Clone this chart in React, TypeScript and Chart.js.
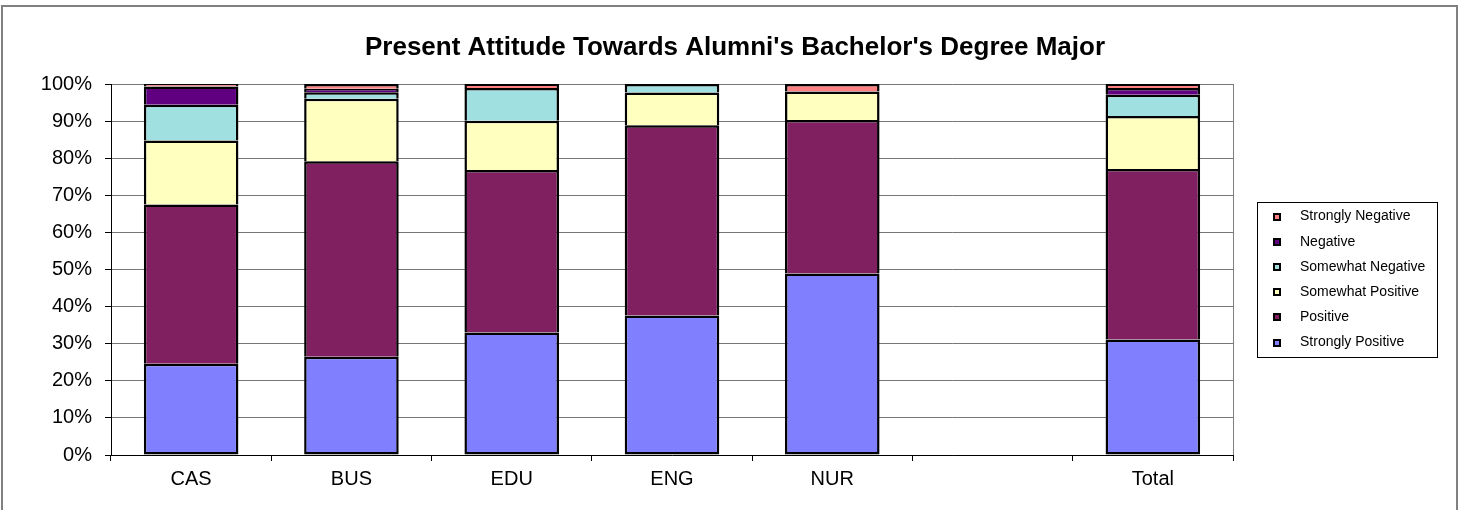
import React, { useEffect, useRef } from "react";
import { Chart, registerables } from "chart.js";

Chart.register(...registerables);

const categories = ["CAS", "BUS", "EDU", "ENG", "NUR", "", "Total"];
const stronglyPositive = [24.6, 26.5, 33.0, 37.6, 48.9, null, 31.1];
const positive = [42.9, 52.7, 43.8, 51.3, 41.4, null, 46.0];
const somewhatPositive = [17.3, 16.8, 13.3, 8.8, 7.7, null, 14.3];
const somewhatNegative = [9.6, 1.8, 8.8, 2.3, 0, null, 5.7];
const negative = [4.9, 0.9, 0, 0, 0, null, 1.8];
const stronglyNegative = [0.7, 1.3, 1.1, 0, 2.0, null, 1.1];
const yTicks = [0, 10, 20, 30, 40, 50, 60, 70, 80, 90, 100];
const titleText = "Present Attitude Towards Alumni's Bachelor's Degree Major";

const FONT = "'Liberation Sans', Arial, sans-serif";

const decorPlugin = {
  id: "decor",
  beforeDraw(chart: any) {
    const ctx = chart.ctx;
    ctx.save();
    ctx.fillStyle = "#ffffff";
    ctx.fillRect(0, 0, chart.width, chart.height);
    ctx.strokeStyle = "#808080";
    ctx.lineWidth = 2;
    ctx.strokeRect(2, 6, 1455, 520);
    ctx.restore();
  },
  afterDatasetsDraw(chart: any) {
    const ctx = chart.ctx;
    const a = chart.chartArea;
    ctx.save();
    // plot right border
    ctx.strokeStyle = "#808080";
    ctx.lineWidth = 1;
    ctx.beginPath();
    ctx.moveTo(Math.round(a.right) + 0.5, a.top);
    ctx.lineTo(Math.round(a.right) + 0.5, a.bottom);
    ctx.stroke();
    // title
    ctx.fillStyle = "#000";
    ctx.font = `bold 26px ${FONT}`;
    ctx.textAlign = "center";
    ctx.textBaseline = "alphabetic";
    ctx.fillText(titleText, 735, 55);
    // legend
    const lx = 1257, ly = 202, lw = 180, lh = 155;
    ctx.strokeStyle = "#000";
    ctx.lineWidth = 1;
    ctx.strokeRect(lx + 0.5, ly + 0.5, lw, lh);
    const ds = chart.data.datasets.slice().reverse();
    ctx.font = `14px ${FONT}`;
    ctx.textAlign = "left";
    ctx.textBaseline = "middle";
    ds.forEach((d: any, i: number) => {
      const cy = 216.5 + i * 25.2;
      ctx.fillStyle = "#000";
      ctx.fillRect(1273, Math.round(cy - 4), 8, 8);
      ctx.fillStyle = d.backgroundColor;
      ctx.fillRect(1275, Math.round(cy - 4) + 2, 4, 4);
      ctx.fillStyle = "#000";
      ctx.fillText(d.label, 1300, cy);
    });
    ctx.restore();
  },
};

export default function App() {
  const ref = useRef<HTMLCanvasElement | null>(null);
  useEffect(() => {
    document.body.style.margin = "0";
    const mk = (label: string, data: any[], color: string, skip: any) => ({
      label,
      data,
      backgroundColor: color,
      borderColor: "#000",
      borderWidth: 2.5,
      borderSkipped: skip,
      barPercentage: 0.59,
      categoryPercentage: 1,
    });
    const chart = new Chart(ref.current as HTMLCanvasElement, {
      type: "bar",
      data: {
        labels: categories,
        datasets: [
          mk("Strongly Positive", stronglyPositive, "#8080FF", false),
          mk("Positive", positive, "#802060", "start"),
          mk("Somewhat Positive", somewhatPositive, "#FFFFC0", "start"),
          mk("Somewhat Negative", somewhatNegative, "#A0E0E0", "start"),
          mk("Negative", negative, "#600080", "start"),
          mk("Strongly Negative", stronglyNegative, "#FF8080", "start"),
        ] as any,
      },
      options: {
        animation: false,
        responsive: false,
        devicePixelRatio: 1,
        layout: { padding: { top: 84, right: 236, left: 0, bottom: 0 } },
        plugins: {
          legend: { display: false },
          title: { display: false },
          tooltip: { enabled: false },
        },
        scales: {
          x: {
            stacked: true,
            offset: true,
            grid: {
              display: true,
              drawOnChartArea: false,
              drawTicks: true,
              tickLength: 6,
              tickColor: "#000",
              offset: true,
            },
            border: { display: true, color: "#000", width: 1 },
            ticks: {
              color: "#000",
              font: { family: FONT, size: 20 },
              padding: 6,
              maxRotation: 0,
              autoSkip: false,
            },
            afterFit(scale: any) {
              scale.height = 55;
            },
          },
          y: {
            stacked: true,
            min: 0,
            max: 100,
            afterBuildTicks(scale: any) {
              scale.ticks = yTicks.map((v) => ({ value: v }));
            },
            grid: {
              color: "#777777",
              lineWidth: 1,
              drawTicks: true,
              tickLength: 6,
              tickColor: "#000",
            },
            border: { display: true, color: "#000", width: 1 },
            ticks: {
              color: "#000",
              font: { family: FONT, size: 20 },
              padding: 13,
              callback: (v: any) => v + "%",
            },
            afterFit(scale: any) {
              scale.width = 111;
            },
          },
        },
      } as any,
      plugins: [decorPlugin],
    });
    return () => chart.destroy();
  }, []);
  return <canvas ref={ref} width={1469} height={510} style={{ display: "block" }} />;
}
